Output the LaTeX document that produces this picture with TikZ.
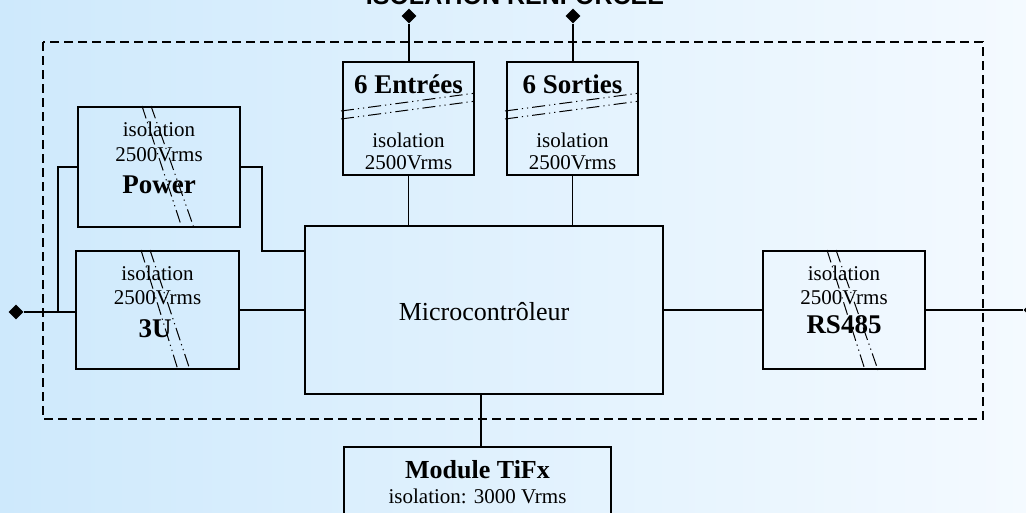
\documentclass[tikz,border=0pt]{standalone}
\usepackage{fontspec}
\setmainfont{Liberation Serif}
\newfontfamily\titlefont{Liberation Sans}
\usetikzlibrary{shapes.geometric}
\definecolor{bgL}{RGB}{206,233,252}
\definecolor{bgR}{RGB}{244,250,255}
\begin{document}
\begin{tikzpicture}[x=1pt,y=-1pt,
  box/.style={draw, line width=2.3pt, inner sep=0pt},
  conn/.style={line width=1.8pt},
  ext/.style={line width=2.3pt},
  pin/.style={diamond, fill=black, inner sep=0pt, minimum width=15pt, minimum height=15pt},
  barrier/.style={line width=1pt, dash pattern=on 13pt off 4pt on 1.2pt off 4pt on 1.2pt off 4pt},
  txt/.style={font=\fontsize{21}{25}\selectfont, inner sep=0pt, anchor=base},
  btxt/.style={font=\fontsize{27}{30}\selectfont\bfseries, inner sep=0pt, anchor=base}]
\useasboundingbox (0,0) rectangle (1026,512);
\shade[left color=bgL, right color=bgR] (0,0) rectangle (1026,512);

% title (cut at top, as in the reference)
\node[font=\titlefont\fontsize{25}{28}\selectfont\bfseries, inner sep=0pt, anchor=base] (title) at (515,4) {ISOLATION RENFORCÉE};

% dashed isolation boundary
\draw[line width=2.4pt, dash pattern=on 9pt off 5pt] (43,42) rectangle (983,419);

% boxes
\node[box, minimum width=162pt, minimum height=120pt] (pw) at (159,167) {};
\node[box, minimum width=163pt, minimum height=118pt] (u3) at (157.5,310) {};
\node[box, minimum width=358pt, minimum height=168pt] (mc) at (484,310) {};
\node[box, minimum width=162pt, minimum height=118pt] (rs) at (844,310) {};
\node[box, minimum width=131pt, minimum height=113pt] (en) at (408.5,118.5) {};
\node[box, minimum width=131pt, minimum height=113pt] (so) at (572.5,118.5) {};
\node[box, minimum width=267pt, minimum height=100pt] (tf) at (477.5,497) {};

% barriers
\draw[barrier] (142,106) -- (182,228);
\draw[barrier] (151,106) -- (194,228);
\draw[barrier] (141,250) -- (178,370);
\draw[barrier] (150,250) -- (190,370);
\draw[barrier] (827,250) -- (865,370);
\draw[barrier] (836,250) -- (878,370);
\draw[barrier] (341,111) -- (476,93);
\draw[barrier] (341,119) -- (476,101);
\draw[barrier] (505,111) -- (640,93);
\draw[barrier] (505,119) -- (640,101);

% texts
\node[txt] (pwa) at (159,136) {isolation};
\node[txt] (pwb) at (159,161) {2500Vrms};
\node[btxt] (pwc) at (159,193) {Power};
\node[txt] (u3a) at (157.5,280) {isolation};
\node[txt] (u3b) at (157.5,304) {2500Vrms};
\node[btxt] (u3c) at (155,337) {3U};
\node[txt] (rsa) at (844,280) {isolation};
\node[txt] (rsb) at (844,304) {2500Vrms};
\node[btxt] (rsc) at (844,333) {RS485};
\node[btxt] (ena) at (408.5,93) {6 Entrées};
\node[txt] (enb) at (408.5,147) {isolation};
\node[txt] (enc) at (408.5,169) {2500Vrms};
\node[btxt] (soa) at (572.5,93) {6 Sorties};
\node[txt] (sob) at (572.5,147) {isolation};
\node[txt] (soc) at (572.5,169) {2500Vrms};
\node[font=\fontsize{26}{30}\selectfont, inner sep=0pt, anchor=base] (mct) at (484,320) {Microcontrôleur};
\node[btxt, font=\fontsize{26}{30}\selectfont\bfseries] (tfa) at (477.5,478) {Module TiFx};
\node[txt] (tfb) at (477.5,503) {isolation: 3000 Vrms};

% pins
\node[pin] (dL) at (16,312) {};
\node[pin] (dR) at (1031,310) {};
\node[pin] (dE) at (409,16) {};
\node[pin] (dS) at (573,16) {};

% connectors
\coordinate (j1) at (58,312);
\coordinate (k1) at (262,251);
\draw[ext] (dL) -- (dL -| u3.west);
\draw[conn] (j1) |- (pw.west);
\draw[conn] (pw.east) -| (k1) -- (k1 -| mc.west);
\draw[conn] (u3.east) -- (u3.east -| mc.west);
\draw[conn] (mc.east) -- (mc.east -| rs.west);
\draw[ext] (rs.east) -- (dR);
\draw[ext] (dE) -- (dE |- en.north);
\draw[ext] (dS) -- (dS |- so.north);
\draw[conn] (en.south) -- (en.south |- mc.north);
\draw[conn] (so.south) -- (so.south |- mc.north);
\draw[conn] ([xshift=-3pt]mc.south) -- ([xshift=-3pt]mc.south |- tf.north);
\end{tikzpicture}
\end{document}
